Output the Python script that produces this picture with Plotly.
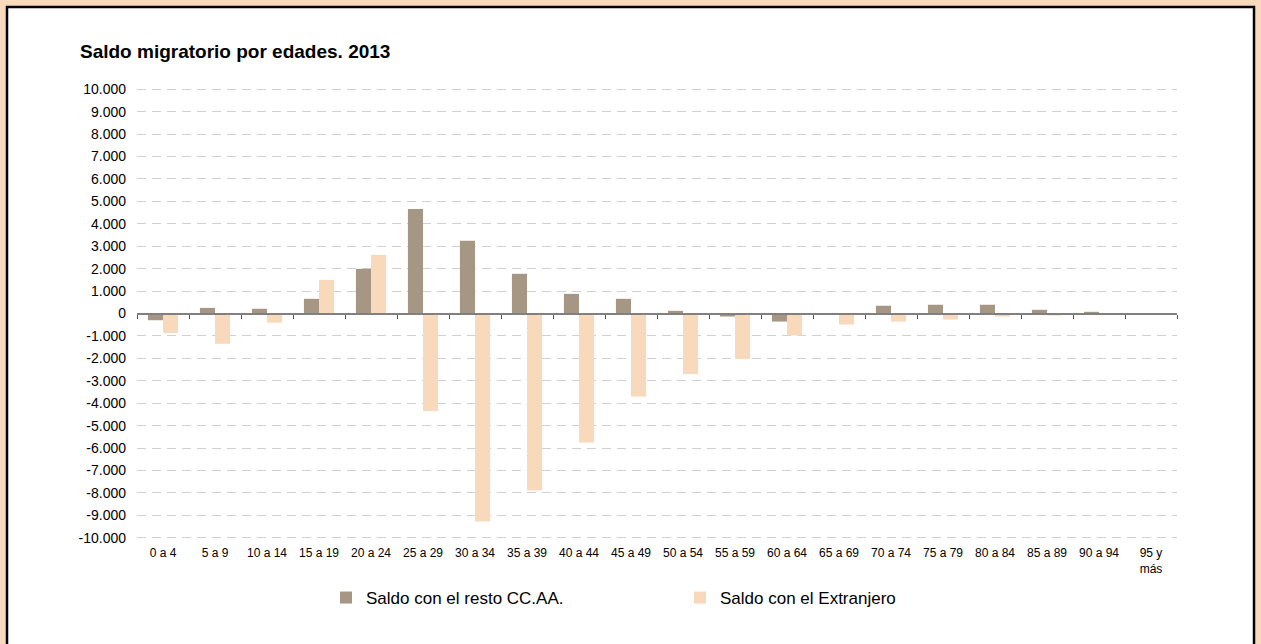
import plotly.graph_objects as go

# grupos de edad
edades = ["0 a 4", "5 a 9", "10 a 14", "15 a 19", "20 a 24", "25 a 29", "30 a 34",
          "35 a 39", "40 a 44", "45 a 49", "50 a 54", "55 a 59", "60 a 64", "65 a 69",
          "70 a 74", "75 a 79", "80 a 84", "85 a 89", "90 a 94", "95 y<br>más"]

saldo_ccaa = [-300, 250, 210, 655, 1990, 4665, 3240, 1770, 875, 655,
              120, -135, -360, 20, 345, 390, 390, 165, 75, 15]
saldo_extranjero = [-870, -1350, -410, 1500, 2615, -4345, -9270, -7890, -5750, -3700,
                    -2700, -2030, -980, -490, -360, -270, -135, -90, -30, -20]

y_ticks = list(range(-10000, 10001, 1000))
y_text = [f"{v:,}".replace(",", ".") for v in y_ticks]

font = "Liberation Sans, Arial, sans-serif"
W, H = 1261, 644
ml, mr, mt, mb = 137, 84, 87, 104
pw, ph = W - ml - mr, H - mt - mb


def px_x(p):
    return (p - ml) / pw


def px_y(p):
    return (H - mb - p) / ph


fig = go.Figure()
fig.add_trace(go.Bar(x=edades, y=saldo_ccaa, name="Saldo con el resto CC.AA.",
                     marker_color="#A69784", marker_line_width=0))
fig.add_trace(go.Bar(x=edades, y=saldo_extranjero, name="Saldo con el Extranjero",
                     marker_color="#F8D9BC", marker_line_width=0))
# eje auxiliar para las etiquetas abajo
fig.add_trace(go.Scatter(x=edades, y=[0] * len(edades), xaxis="x2", mode="markers",
                         marker_opacity=0, showlegend=False, hoverinfo="skip"))

fig.update_layout(
    width=W, height=H,
    margin=dict(l=ml, r=mr, t=mt, b=mb),
    paper_bgcolor="#F8D9BC",
    plot_bgcolor="rgba(0,0,0,0)",
    font=dict(family=font, color="#000000"),
    barmode="group", bargap=0.42, bargroupgap=0,
    title=dict(text="<b>Saldo migratorio por edades. 2013</b>",
               font=dict(size=19, family=font, color="#000000"),
               x=80 / W, xanchor="left", xref="container",
               y=1 - 51 / H, yanchor="middle", yref="container"),
    xaxis=dict(type="category", anchor="free", position=0.5,
               showline=True, linecolor="#808080", linewidth=2,
               ticks="outside", tickson="boundaries", ticklen=4, tickcolor="#555555",
               tickwidth=1, showticklabels=False, showgrid=False, zeroline=False,
               range=[-0.5, len(edades) - 0.5]),
    xaxis2=dict(type="category", overlaying="x", anchor="y", side="bottom",
                showline=False, ticks="", showgrid=False, zeroline=False,
                tickfont=dict(size=12, family=font, color="#000000"),
                range=[-0.5, len(edades) - 0.5], ticklabelstandoff=4),
    yaxis=dict(range=[-10100, 10100], tickmode="array", tickvals=y_ticks, ticktext=y_text,
               showgrid=True, gridcolor="#D0D0D0", gridwidth=1, griddash="9px,6px",
               zeroline=False, showline=False, ticks="",
               ticklabelstandoff=10,
               tickfont=dict(size=14, family=font, color="#000000")),
    legend=dict(orientation="h", x=px_x(326), xanchor="left", y=px_y(598), yanchor="middle",
                font=dict(size=17, family=font, color="#000000"),
                entrywidth=309, bgcolor="rgba(0,0,0,0)"),
    showlegend=True,
    shapes=[dict(type="rect", xref="paper", yref="paper", layer="below",
                 x0=px_x(7), x1=px_x(1254), y0=px_y(652), y1=px_y(7),
                 fillcolor="#FFFFFF", line=dict(color="#000000", width=2.5))],
)

fig.write_html("out.html", config={"displayModeBar": False},
               post_script="document.body.style.margin='0';"
                           "document.body.style.background='#F8D9BC';")
